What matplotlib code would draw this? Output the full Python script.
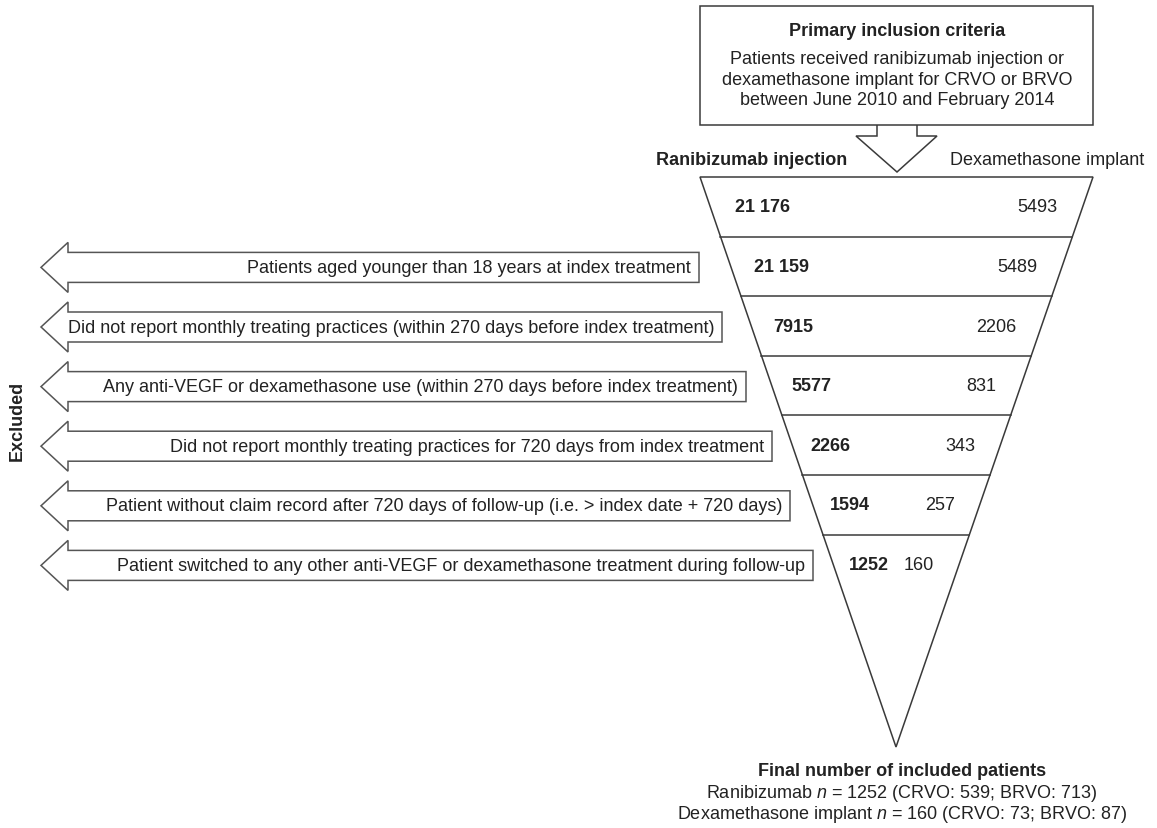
import matplotlib.pyplot as plt
from matplotlib.patches import Polygon, Rectangle

plt.rcParams["font.family"] = ["Liberation Sans", "DejaVu Sans"]
plt.rcParams["mathtext.fontset"] = "custom"
plt.rcParams["mathtext.it"] = "Liberation Sans:italic"
plt.rcParams["mathtext.rm"] = "Liberation Sans"

# data
ranibizumab = ["21 176", "21 159", "7915", "5577", "2266", "1594", "1252"]
dexamethasone = ["5493", "5489", "2206", "831", "343", "257", "160"]
reasons = [
    "Patients aged younger than 18 years at index treatment",
    "Did not report monthly treating practices (within 270 days before index treatment)",
    "Any anti-VEGF or dexamethasone use (within 270 days before index treatment)",
    "Did not report monthly treating practices for 720 days from index treatment",
    "Patient without claim record after 720 days of follow-up (i.e. > index date + 720 days)",
    "Patient switched to any other anti-VEGF or dexamethasone treatment during follow-up",
]

W, H = 1157, 829
fig = plt.figure(figsize=(W / 100, H / 100), dpi=100)
ax = fig.add_axes([0, 0, 1, 1])
ax.set_xlim(0, W)
ax.set_ylim(H, 0)
ax.axis("off")

lc = "#3a3a3a"
tc = "#222222"
fs = 13

# top box
ax.add_patch(Rectangle((700, 7), 393, 119, fill=False, ec=lc, lw=1.1))
ax.text(897, 31, "Primary inclusion criteria", ha="center", va="center",
        fontsize=fs, fontweight="bold", color=tc)
ax.text(897, 80, "Patients received ranibizumab injection or\n"
        "dexamethasone implant for CRVO or BRVO\nbetween June 2010 and February 2014",
        ha="center", va="center", fontsize=fs, color=tc, linespacing=1.3)

# down arrow
ax.add_patch(Polygon([(877, 126), (877, 137), (856, 137), (897, 173),
                      (937, 137), (917, 137), (917, 126)],
                     closed=False, fill=False, ec=lc, lw=1.1))

ax.text(752, 160, "Ranibizumab injection", ha="center", va="center",
        fontsize=fs, fontweight="bold", color=tc)
ax.text(1047, 160, "Dexamethasone implant", ha="center", va="center",
        fontsize=fs, color=tc)

# funnel
top, xl0, xr0 = 178, 700, 1093
apx, apy = 896, 748
ax.add_patch(Polygon([(xl0, top), (xr0, top), (apx, apy)], closed=True,
                     fill=False, ec=lc, lw=1.1))


def left_edge(y):
    return xl0 + (apx - xl0) * (y - top) / (apy - top)


def right_edge(y):
    return xr0 + (apx - xr0) * (y - top) / (apy - top)


row_h = 59.6
for i in range(len(ranibizumab)):
    y0 = top + i * row_h
    if i > 0:
        ax.plot([left_edge(y0), right_edge(y0)], [y0, y0], color=lc, lw=1.1)
    yc = y0 + row_h / 2
    ax.text(left_edge(yc) + 25 - 1.6 * i, yc, ranibizumab[i], ha="left", va="center",
            fontsize=fs, fontweight="bold", color=tc)
    ax.text(right_edge(yc) - 25, yc, dexamethasone[i], ha="right", va="center",
            fontsize=fs, color=tc)

# exclusion arrows
box_right = [699, 722, 746, 772, 790, 813]
for i, txt in enumerate(reasons):
    yc = top + (i + 1.5) * row_h + 1
    xr = box_right[i]
    pts = [(xr, yc - 15), (68, yc - 15), (68, yc - 25), (41, yc), (68, yc + 25),
           (68, yc + 15), (xr, yc + 15)]
    ax.add_patch(Polygon(pts, closed=True, fill=False, ec="#555555", lw=1.1))
    ax.text(xr - 8, yc, txt, ha="right", va="center", fontsize=fs, color=tc)

ax.text(17, 421, "Excluded", rotation=90, ha="center", va="center",
        fontsize=fs, fontweight="bold", color=tc)

# final numbers
ax.text(902, 772, "Final number of included patients", ha="center", va="center",
        fontsize=fs, fontweight="bold", color=tc)
ax.text(902, 794, "Ranibizumab $n$ = 1252 (CRVO: 539; BRVO: 713)", ha="center",
        va="center", fontsize=fs, color=tc)
ax.text(902, 815, "Dexamethasone implant $n$ = 160 (CRVO: 73; BRVO: 87)", ha="center",
        va="center", fontsize=fs, color=tc)

fig.savefig("out.png", dpi=100)
